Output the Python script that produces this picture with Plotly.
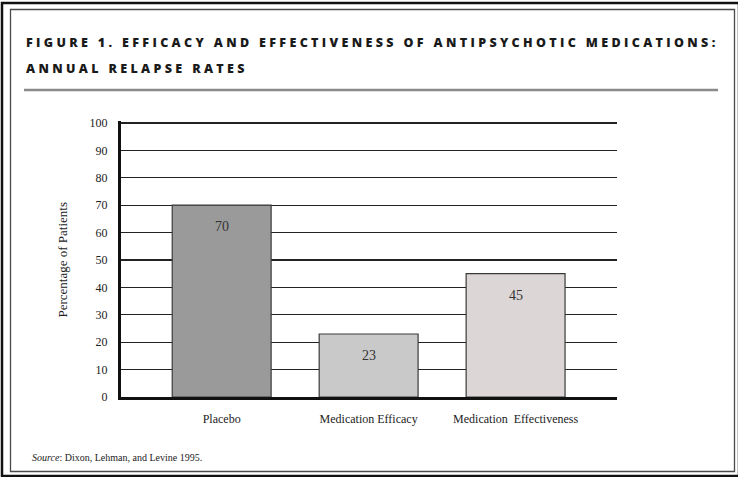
import plotly.graph_objects as go

categories = ["Placebo", "Medication Efficacy", "Medication  Effectiveness"]
values = [70, 23, 45]
bar_colors = ["#9a9a9a", "#c9c9c9", "#ddd6d6"]
y_ticks = [0, 10, 20, 30, 40, 50, 60, 70, 80, 90, 100]
title_line1 = "FIGURE 1. EFFICACY AND EFFECTIVENESS OF ANTIPSYCHOTIC MEDICATIONS:"
title_line2 = "ANNUAL RELAPSE RATES"
y_title = "Percentage of Patients"
source_text = "<i>Source</i>: Dixon, Lehman, and Levine 1995."

W, H = 738, 477
L, R, T, B = 121, 617, 121, 397  # plot area in pixels
Y100 = 123  # pixel of value 100
y_top = 100 * (B - T) / (B - Y100)


def px(x):
    return (x - L) / (R - L)


def py(y):
    return (B - y) / (B - T)


SERIF = "Liberation Serif, Times New Roman, serif"

fig = go.Figure()
fig.add_trace(go.Bar(
    x=[0, 1, 2], y=values, width=0.673,
    marker=dict(color=bar_colors, line=dict(color="#3a3a3a", width=1.2)),
    hoverinfo="skip",
))

for i, v in enumerate(values):
    fig.add_annotation(x=i, y=v, text=str(v), showarrow=False, yanchor="top",
                       yshift=-12, font=dict(family=SERIF, size=14, color="#333333"))

fig.update_layout(
    width=W, height=H,
    margin=dict(l=L, r=W - R, t=T, b=H - B, pad=0),
    paper_bgcolor="white", plot_bgcolor="white",
    showlegend=False,
    bargap=0,
)
fig.update_xaxes(
    range=[-0.685, 2.69], tickvals=[0, 1, 2], ticktext=categories,
    showgrid=False, zeroline=False, showline=True, linecolor="#111111", linewidth=2.5,
    ticks="", ticklabelstandoff=9,
    tickfont=dict(family=SERIF, size=12, color="#222222"),
)
fig.update_yaxes(
    range=[0, y_top], tickvals=y_ticks,
    showgrid=True, gridcolor="#222222", gridwidth=1.3,
    zeroline=False, showline=True, linecolor="#111111", linewidth=3,
    ticks="", ticklabelstandoff=8,
    tickfont=dict(family=SERIF, size=12, color="#222222"),
)

# top gridline (value 100), drawn below the data like the other gridlines
fig.add_shape(type="line", xref="paper", yref="y", x0=0, x1=1, y0=y_ticks[-1], y1=y_ticks[-1],
              line=dict(color="#222222", width=1.3), layer="below")

# Titles
TITLE_FONT = dict(family="Open Sans, DejaVu Sans, sans-serif", size=12.5, color="#1a1a1a", weight=800)
fig.add_annotation(xref="paper", yref="paper", x=px(24), y=py(42), xanchor="left", yanchor="middle",
                   text='<span style="letter-spacing:3.35px">' + title_line1 + '</span>',
                   showarrow=False, font=TITLE_FONT)
fig.add_annotation(xref="paper", yref="paper", x=px(24), y=py(68), xanchor="left", yanchor="middle",
                   text='<span style="letter-spacing:3.35px">' + title_line2 + '</span>',
                   showarrow=False, font=TITLE_FONT)

fig.add_annotation(xref="paper", yref="paper", x=px(52), y=py(260), textangle=-90,
                   text=y_title, showarrow=False,
                   font=dict(family=SERIF, size=13, color="#222222"))
fig.add_annotation(xref="paper", yref="paper", x=px(30), y=py(457), xanchor="left", yanchor="middle",
                   text=source_text, showarrow=False,
                   font=dict(family=SERIF, size=10, color="#222222"))

# Horizontal rule under the title
fig.add_shape(type="line", xref="paper", yref="paper", x0=px(24), x1=px(718), y0=py(90), y1=py(90),
              line=dict(color="#8a8a8a", width=2.5))
# Inner frame
fig.add_shape(type="rect", xref="paper", yref="paper", x0=px(10.5), x1=px(734.5), y0=py(9.5), y1=py(471.5),
              line=dict(color="#4a4a4a", width=1.3))
# Outer frame
fig.add_shape(type="rect", xref="paper", yref="paper", x0=px(2), x1=px(739), y0=py(3), y1=py(476),
              line=dict(color="#111111", width=2.5))

fig.write_html("out.html", config={"displayModeBar": False, "staticPlot": True},
               post_script="document.body.style.margin='0';document.body.style.overflow='hidden';")
